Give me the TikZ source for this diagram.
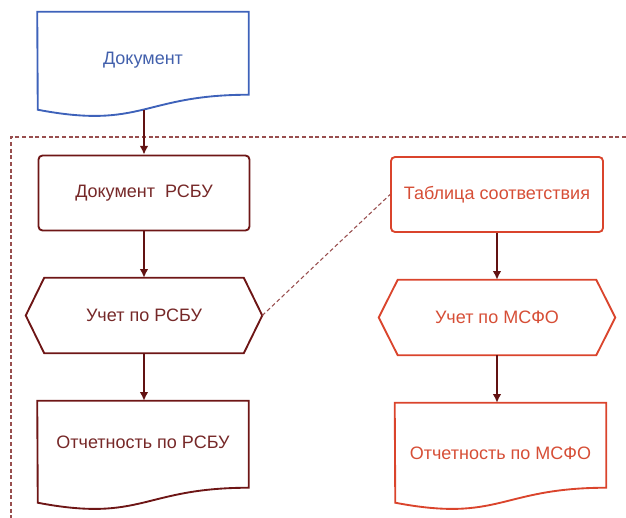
\documentclass[tikz,border=0pt]{standalone}
\usepackage{fontspec}
\setmainfont{Liberation Sans}
\usepackage{xcolor}
\usetikzlibrary{arrows.meta}
\usetikzlibrary{calc}

\definecolor{docblue}{RGB}{62,98,186}
\definecolor{doctext}{RGB}{66,96,172}
\definecolor{rsbuline}{RGB}{110,22,22}
\definecolor{rsbutext}{RGB}{118,40,40}
\definecolor{msfoline}{RGB}{218,68,44}
\definecolor{msfotext}{RGB}{214,78,54}
\definecolor{arrowred}{RGB}{98,18,18}
\definecolor{framered}{RGB}{152,78,78}

\tikzset{
  textnode/.style={inner sep=0pt,font=\fontsize{13.5}{16}\selectfont},
  docnode/.style={textnode,minimum width=158.25pt},
  rsbubox/.style={textnode,draw=rsbuline,line width=1.4pt,rounded corners=3pt,
    minimum width=158.25pt,minimum height=56.25pt,text=rsbutext},
  msfobox/.style={textnode,draw=msfoline,line width=1.4pt,rounded corners=3pt,
    minimum width=159pt,minimum height=56.25pt,text=msfotext},
  hexnode/.style={textnode,minimum height=56.25pt},
  arr/.style={-{Latex[length=6.5pt,width=6.5pt]},line width=1.4pt,draw=arrowred},
  link/.style={draw=framered,line width=0.8pt,dash pattern=on 3pt off 2pt},
  frame/.style={draw=framered,line width=0.8pt,dash pattern=on 3pt off 2pt}
}

\newcommand\docoutline[3]{%
  \draw[#3] (#1.north west) -- (#1.north east) -- ++(0,#2)
    .. controls +(-106,0) and +(105,20) .. ++(-211,15) coordinate[pos=.5] (#1-b)
    -- cycle;}

\newcommand\hexoutline[3]{%
  \draw[#3] (#1.north west) -- (#1.north east) -- ($(#1.east)+(#2,0)$) coordinate (#1-e)
    -- (#1.south east) -- (#1.south west) -- ($(#1.west)+(-#2,0)$) coordinate (#1-w) -- cycle;}

\begin{document}
\begin{tikzpicture}[x=0.75pt,y=-0.75pt]
  \useasboundingbox (0,0) rectangle (626,518);

  \draw[frame] (626,137) -- (11,137) -- (11,518);

  \node (doc) at (143,60) [docnode,minimum height=72pt,text=doctext] {Документ};
  \docoutline{doc}{83}{draw=docblue,line width=1.4pt}

  \node (rsbudoc) at (144,193) [rsbubox] {Документ~~РСБУ};

  \node (rsbuacc) at (144,315.5) [hexnode,minimum width=149.25pt,text=rsbutext] {Учет по РСБУ};
  \hexoutline{rsbuacc}{18.5}{draw=rsbuline,line width=1.4pt}

  \node (rsburep) at (143,442) [docnode,minimum height=61.5pt,text=rsbutext] {Отчетность по РСБУ};
  \docoutline{rsburep}{87}{draw=rsbuline,line width=1.4pt}

  \node (tabl) at (497,194.5) [msfobox] {Таблица соответствия};

  \node (msfoacc) at (497,317.5) [hexnode,minimum width=148.5pt,text=msfotext] {Учет по МСФО};
  \hexoutline{msfoacc}{19}{draw=msfoline,line width=1.4pt}

  \node (msforep) at (500.5,453) [docnode,minimum height=75pt,text=msfotext] {Отчетность по МСФО};
  \docoutline{msforep}{85}{draw=msfoline,line width=1.4pt}

  \draw[arr] (rsbudoc.north |- doc-b) -- (rsbudoc.north);
  \draw[arr] (rsbudoc.south) -- (rsbudoc.south |- rsbuacc.north);
  \draw[arr] (rsbuacc.south) -- (rsbuacc.south |- rsburep.north);
  \draw[arr] (tabl.south) -- (tabl.south |- msfoacc.north);
  \draw[arr] (msfoacc.south) -- (msfoacc.south |- msforep.north);
  \draw[link] (rsbuacc-e) -- (tabl.west);
\end{tikzpicture}
\end{document}
